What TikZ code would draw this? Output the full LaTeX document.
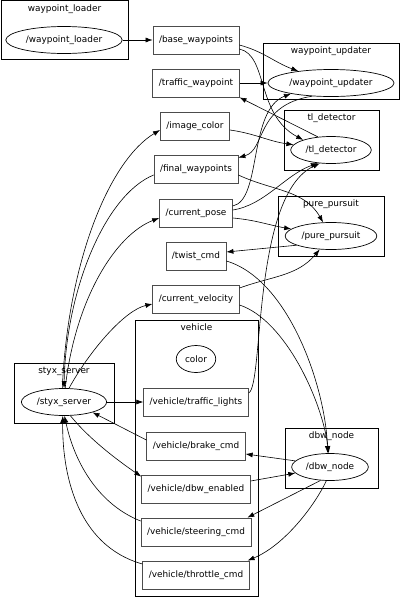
\documentclass[tikz,border=0pt]{standalone}
\usepackage{fontspec}
\setmainfont{DejaVu Sans}
\usepackage{tikz}
\usetikzlibrary{arrows.meta,positioning,shapes.geometric}
\newcommand{\graphfont}{\fontsize{8.9}{10}\selectfont}

\begin{document}
\begin{tikzpicture}[
  x=1pt, y=1pt,
  topic/.style={draw=black!70, line width=0.8pt, rectangle, minimum height=28pt,
                inner xsep=6pt, font=\graphfont},
  rosnode/.style={draw, line width=0.7pt, ellipse, minimum height=27pt,
                  inner xsep=3pt, font=\graphfont},
  cluster/.style={draw, line width=0.9pt, inner sep=0pt},
  clabel/.style={font=\graphfont, inner sep=1pt},
  arrow/.style={-{Latex[length=7pt, width=5pt]}, line width=0.6pt}
]
\useasboundingbox (0,0) rectangle (400,-598);

% namespaces
\node[cluster, minimum width=127pt, minimum height=59pt] (c_loader) at (64.5,-30) {};
\node[cluster, minimum width=136pt, minimum height=56pt] (c_updater) at (331,-71) {};
\node[cluster, minimum width=95pt, minimum height=60pt] (c_tl) at (331.5,-140) {};
\node[cluster, minimum width=106pt, minimum height=60pt] (c_pp) at (331,-226) {};
\node[cluster, minimum width=123pt, minimum height=276pt] (c_vehicle) at (196.5,-458) {};
\node[cluster, minimum width=100pt, minimum height=60pt] (c_styx) at (64,-393) {};
\node[cluster, minimum width=93pt, minimum height=60pt] (c_dbw) at (331.5,-458) {};

\node[clabel, below=3pt of c_loader.north] (l_loader) {waypoint\_loader};
\node[clabel, below=3pt of c_updater.north] (l_updater) {waypoint\_updater};
\node[clabel, below=3pt of c_tl.north] (l_tl) {tl\_detector};
\node[clabel, below=3pt of c_pp.north] (l_pp) {pure\_pursuit};
\node[clabel, below=3pt of c_vehicle.north] (l_vehicle) {vehicle};
\node[clabel, below=3pt of c_styx.north] (l_styx) {styx\_server};
\node[clabel, below=3pt of c_dbw.north] (l_dbw) {dbw\_node};

% ros nodes
\node[rosnode] (wl) at (64,-40) {/waypoint\_loader};
\node[rosnode] (wu) at (331,-83) {/waypoint\_updater};
\node[rosnode] (tl) at (331,-150) {/tl\_detector};
\node[rosnode] (pp) at (331,-236) {/pure\_pursuit};
\node[rosnode] (color) at (196,-359) {color};
\node[rosnode] (styx) at (64,-402) {/styx\_server};
\node[rosnode] (dbw) at (330,-467) {/dbw\_node};

% topics
\node[topic] (base) at (196,-40) {/base\_waypoints};
\node[topic] (tw) at (196,-83) {/traffic\_waypoint};
\node[topic] (ic) at (195,-126) {/image\_color};
\node[topic] (fw) at (196,-169) {/final\_waypoints};
\node[topic] (cp) at (196,-213) {/current\_pose};
\node[topic] (twist) at (196,-256) {/twist\_cmd};
\node[topic] (cv) at (196,-299) {/current\_velocity};
\node[topic] (tlights) at (196,-402) {/vehicle/traffic\_lights};
\node[topic] (brake) at (196,-446) {/vehicle/brake\_cmd};
\node[topic] (dbwen) at (196,-489) {/vehicle/dbw\_enabled};
\node[topic] (steer) at (196,-532) {/vehicle/steering\_cmd};
\node[topic] (throttle) at (196,-575) {/vehicle/throttle\_cmd};

% upper part
\draw[arrow] (wl) -- (base);
\draw[arrow] ([yshift=-5pt]base.east) to[out=-15, in=160] (wu);
\draw[arrow] ([yshift=-9pt]base.east) .. controls (268,-55) and (256,-115) .. (tl.160);
\draw[arrow] (tw) -- (wu);
\draw[arrow] (tl.135) -- (tw.south east);
\draw[arrow] ([yshift=-4pt]ic.east) to[out=-8, in=172] (tl);
\draw[arrow] (wu.215) .. controls (255,-105) and (266,-150) .. ([yshift=-3pt]fw.north east);
\draw[arrow] ([yshift=7pt]cp.east) .. controls (262,-200) and (248,-110) .. (wu.195);
\draw[arrow] ([yshift=3pt]cp.east) .. controls (265,-205) and (285,-175) .. (tl.225);
\draw[arrow] ([yshift=-5pt]cp.east) to[out=-5, in=170] (pp);
\draw[arrow] ([yshift=-6pt]fw.east) to[out=-25, in=120] (pp);
\draw[arrow] (pp.195) -- ([yshift=4pt]twist.east);
\draw[arrow] ([yshift=-5pt]twist.east) .. controls (290,-280) and (326,-390) .. (dbw.100);
\draw[arrow] ([yshift=11pt]cv.east) to[out=20, in=230] (pp);
\draw[arrow] ([yshift=-6pt]cv.east) .. controls (285,-320) and (322,-400) .. (dbw.95);

% simulator bridge
\draw[arrow] (styx.97) .. controls (68,-260) and (110,-160) .. ([yshift=-4pt]ic.west);
\draw[arrow] ([yshift=-6pt]fw.west) .. controls (105,-195) and (66,-290) .. (styx.north);
\draw[arrow] (styx.85) .. controls (75,-300) and (115,-235) .. ([yshift=-5pt]cp.west);
\draw[arrow] (styx.70) .. controls (90,-350) and (125,-310) .. ([yshift=-5pt]cv.west);
\draw[arrow] (styx) -- (tlights);
\draw[arrow] ([yshift=9pt]tlights.east) .. controls (264,-385) and (252,-195) .. (tl.230);
\draw[arrow] ([yshift=6pt]brake.west) -- (styx.340);
\draw[arrow] (styx.295) .. controls (90,-440) and (120,-462) .. ([yshift=-2pt]dbwen.north west);
\draw[arrow] ([yshift=11pt]steer.west) .. controls (100,-505) and (75,-465) .. (styx.272);
\draw[arrow] ([yshift=11pt]throttle.west) .. controls (75,-545) and (62,-470) .. (styx.265);

% drive by wire
\draw[arrow] (dbw.170) -- ([yshift=-8pt]brake.east);
\draw[arrow] ([yshift=8pt]dbwen.east) -- (dbw.190);
\draw[arrow] (dbw.235) -- ([xshift=-4pt]steer.north east);
\draw[arrow] (dbw.255) .. controls (315,-505) and (285,-545) .. ([xshift=-2pt]throttle.north east);
\end{tikzpicture}
\end{document}
